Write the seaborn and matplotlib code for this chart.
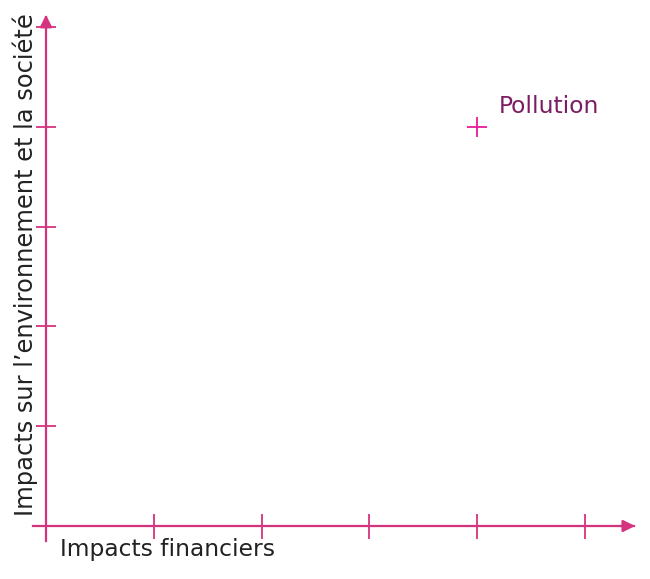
import matplotlib.pyplot as plt
import pandas as pd
import seaborn as sns

# data
labels = ["Pollution"]
financial = [4]
environmental = [4]
x_ticks = [1, 2, 3, 4, 5]
y_ticks = [1, 2, 3, 4, 5]

AXIS_COLOR = "#d6337f"
MARK_COLOR = "#e8199a"
LABEL_COLOR = "#7a1d62"
TEXT_COLOR = "#222222"

df = pd.DataFrame({"label": labels, "x": financial, "y": environmental})

sns.set_style("white")
plt.rcParams["font.family"] = ["DejaVu Sans"]

fig = plt.figure(figsize=(6.5, 5.79), dpi=100)
ax = fig.add_axes([0, 0, 1, 1])

sns.scatterplot(data=df, x="x", y="y", marker="+", s=190, color=MARK_COLOR,
                linewidth=1.3, ax=ax, zorder=5)

for _, row in df.iterrows():
    ax.annotate(row["label"], (row["x"], row["y"]), xytext=(22, 20),
                textcoords="offset pixels", ha="left", va="center",
                fontsize=16.8, color=LABEL_COLOR)

# map the figure so that origin sits at pixel (46, 526)
ax.set_xlim(-46 / 107.8, (650 - 46) / 107.8)
ax.set_ylim((526 - 579) / 99.8, 526 / 99.8)

# axes through the origin
for side in ["top", "right"]:
    ax.spines[side].set_visible(False)
ax.spines["left"].set_position(("data", 0))
ax.spines["bottom"].set_position(("data", 0))
ax.spines["left"].set_bounds(-0.15, 5.1)
ax.spines["bottom"].set_bounds(-0.12, 5.45)
for side in ["left", "bottom"]:
    ax.spines[side].set_color(AXIS_COLOR)
    ax.spines[side].set_linewidth(1.6)

ax.set_xticks(x_ticks)
ax.set_yticks(y_ticks)
ax.set_xticklabels([])
ax.set_yticklabels([])
ax.tick_params(axis="x", bottom=True, direction="inout", length=18, width=1.3,
               color=AXIS_COLOR)
ax.tick_params(axis="y", left=True, direction="inout", length=14, width=1.3,
               color=AXIS_COLOR)
ax.set_xlabel("")
ax.set_ylabel("")

# arrow heads
ax.annotate("", xy=(5.49, 0), xytext=(5.3, 0),
            arrowprops=dict(arrowstyle="-|>", color=AXIS_COLOR, lw=1.6, mutation_scale=18))
ax.annotate("", xy=(0, 5.15), xytext=(0, 4.95),
            arrowprops=dict(arrowstyle="-|>", color=AXIS_COLOR, lw=1.6, mutation_scale=18))

# axis titles
ax.text(0.13, -0.24, "Impacts financiers", ha="left", va="center",
        fontsize=16.8, color=TEXT_COLOR)
ax.text(-0.19, 2.62, "Impacts sur l\u2019environnement et la société", ha="center",
        va="center", rotation=90, fontsize=17.4, color=TEXT_COLOR)

fig.savefig("out.png", dpi=100)
